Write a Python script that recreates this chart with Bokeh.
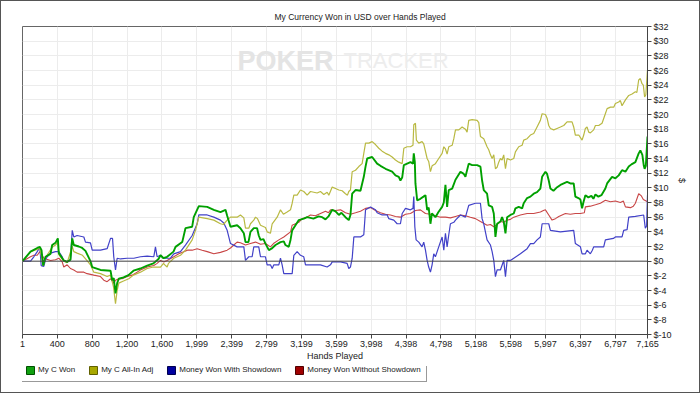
from bokeh.plotting import figure
from bokeh.layouts import column
from bokeh.models import Range1d, FixedTicker, Span, Label, Legend, LegendItem
from bokeh.embed import file_html
from bokeh.resources import INLINE

title_text = "My Currency Won in USD over Hands Played"
x_title = "Hands Played"
y_title = "$"
series_names = ["My C Won", "My C All-In Adj", "Money Won With Showdown", "Money Won Without Showdown"]

x_ticks = [1, 400, 800, 1200, 1600, 1999, 2399, 2799, 3199, 3599, 3998, 4398, 4798, 5198, 5598, 5997, 6397, 6797, 7165]
x_tick_labels = ["1", "400", "800", "1,200", "1,600", "1,999", "2,399", "2,799", "3,199", "3,599", "3,998",
                 "4,398", "4,798", "5,198", "5,598", "5,997", "6,397", "6,797", "7,165"]
y_ticks = [-10, -8, -6, -4, -2, 0, 2, 4, 6, 8, 10, 12, 14, 16, 18, 20, 22, 24, 26, 28, 30, 32]
y_tick_labels = ["$-10", "$-8", "$-6", "$-4", "$-2", "$0", "$2", "$4", "$6", "$8", "$10", "$12", "$14",
                 "$16", "$18", "$20", "$22", "$24", "$26", "$28", "$30", "$32"]

# (hand, USD)
won_points = [
    (1, 0), (93, 1.3), (170, 1.8), (200, 1.95), (219, 1.5), (238, -0.6), (265, 0.6), (322, 1.0), (341, 2.2),
    (379, 2.5), (406, 3.1), (417, 1.1), (474, 0.1), (513, -0.1), (551, 0.2), (571, 3.1), (589, 2.2), (646, 2.0),
    (685, 1.8), (723, 1.4), (780, 0.0), (800, -0.8), (895, -1.2), (1010, -1.3), (1029, -2.6), (1047, -2.3),
    (1067, -4.4), (1086, -3.0), (1105, -2.4), (1159, -2.2), (1216, -1.9), (1273, -1.3), (1353, -1.0),
    (1430, -0.6), (1502, -0.3), (1560, 0.3), (1583, 0.8), (1617, 0.4), (1659, 0.6), (1732, 1.3), (1755, 1.95),
    (1832, 2.6), (1869, 4.5), (1946, 4.7), (1964, 6.0), (2022, 7.5), (2118, 7.4), (2194, 7.0), (2270, 6.7),
    (2328, 7.0), (2347, 6.2), (2385, 4.7), (2461, 4.9), (2499, 4.5), (2538, 3.8), (2557, 2.6), (2591, 2.6),
    (2614, 4.0), (2652, 4.5), (2690, 4.5), (2709, 3.5), (2729, 2.9), (2763, 3.0), (2786, 2.4), (2825, 1.5),
    (2855, 1.7), (2901, 2.2), (2958, 2.6), (2996, 2.7), (3015, 2.2), (3053, 1.95), (3073, 2.9), (3092, 4.2),
    (3130, 4.9), (3168, 5.6), (3225, 5.8), (3264, 6.0), (3336, 5.8), (3394, 6.1), (3436, 6.0), (3474, 5.7),
    (3508, 6.1), (3551, 7.0), (3589, 6.8), (3627, 6.3), (3657, 6.6), (3703, 6.0), (3741, 5.6), (3760, 6.3),
    (3780, 9.2), (3818, 9.7), (3875, 9.6), (3913, 11.5), (3933, 12.9), (3952, 14.0), (4009, 14.2), (4066, 13.3),
    (4104, 13.0), (4162, 12.6), (4238, 12.2), (4276, 11.7), (4314, 11.5), (4333, 11.0), (4353, 11.4),
    (4372, 13.1), (4410, 13.3), (4448, 13.5), (4477, 13.3), (4486, 14.7), (4498, 13.5), (4505, 10.6),
    (4525, 8.3), (4562, 8.5), (4597, 8.8), (4620, 9.0), (4639, 7.0), (4657, 7.3), (4677, 5.1), (4694, 6.5),
    (4734, 6.0), (4769, 6.7), (4811, 7.4), (4830, 8.0), (4849, 10.4), (4868, 7.4), (4887, 9.7), (4926, 9.9),
    (4964, 11.1), (5021, 12.2), (5059, 11.9), (5078, 11.5), (5116, 13.3), (5155, 13.1), (5212, 13.1),
    (5250, 12.9), (5269, 11.0), (5288, 9.7), (5326, 9.2), (5345, 7.6), (5384, 7.4), (5403, 6.5), (5422, 3.3),
    (5441, 5.1), (5479, 5.4), (5498, 6.0), (5517, 5.4), (5537, 3.8), (5556, 6.0), (5594, 6.3), (5632, 6.5),
    (5651, 7.2), (5689, 7.4), (5728, 7.2), (5746, 7.9), (5785, 8.6), (5823, 8.8), (5861, 9.2), (5899, 9.4),
    (5937, 9.9), (5957, 11.5), (5995, 12.2), (6014, 11.9), (6033, 11.0), (6052, 9.9), (6087, 9.6),
    (6121, 10.0), (6167, 10.4), (6205, 10.6), (6243, 10.8), (6281, 10.6), (6319, 10.6), (6338, 8.8),
    (6373, 8.6), (6396, 8.4), (6415, 7.2), (6430, 8.0), (6453, 9.0), (6487, 8.7), (6522, 8.9), (6545, 8.5),
    (6568, 9.1), (6602, 8.8), (6637, 9.0), (6682, 9.9), (6702, 10.6), (6759, 11.5), (6797, 11.3),
    (6835, 11.7), (6873, 12.4), (6912, 12.2), (6950, 12.9), (6981, 13.2), (7026, 13.5), (7064, 14.7),
    (7083, 15.1), (7106, 14.5), (7123, 13.0), (7132, 12.6), (7146, 13.0), (7165, 17.0),
]

allin_points = [
    (1, 0), (93, 1.3), (170, 1.6), (200, 1.8), (238, -0.6), (265, 0.5), (341, 1.9), (379, 2.2), (406, 2.6),
    (417, 0.9), (474, 0.0), (513, -0.2), (571, 2.0), (589, 1.3), (627, 1.1), (689, 0.8), (746, 0.0),
    (780, -0.5), (818, -1.5), (895, -1.7), (971, -2.1), (1010, -1.9), (1044, -3.5), (1067, -5.8),
    (1086, -4.0), (1105, -3.0), (1159, -2.7), (1219, -2.4), (1273, -1.9), (1353, -1.5), (1430, -1.0),
    (1502, -0.8), (1583, -0.8), (1617, -0.3), (1640, -0.6), (1659, -0.8), (1674, -0.3), (1735, 0.4),
    (1812, 0.8), (1869, 1.5), (1946, 2.9), (1984, 4.2), (2022, 6.0), (2118, 5.8), (2194, 5.6), (2270, 5.1),
    (2304, 5.0), (2347, 5.6), (2385, 6.0), (2461, 6.0), (2499, 6.3), (2538, 5.9), (2557, 4.5), (2595, 4.5),
    (2614, 5.1), (2652, 5.6), (2672, 6.0), (2695, 5.8), (2729, 4.9), (2786, 4.6), (2805, 4.0), (2843, 3.8),
    (2863, 5.1), (2920, 6.0), (2958, 7.0), (2992, 6.4), (3034, 6.7), (3073, 7.0), (3092, 7.9), (3111, 9.0),
    (3149, 9.0), (3187, 9.7), (3225, 9.5), (3264, 9.0), (3302, 9.5), (3378, 9.3), (3416, 9.5), (3455, 9.1),
    (3493, 9.4), (3512, 9.0), (3551, 10.1), (3589, 9.9), (3627, 9.7), (3665, 9.6), (3703, 9.2), (3726, 9.0),
    (3741, 9.5), (3760, 9.7), (3780, 12.2), (3818, 12.4), (3856, 12.9), (3894, 13.3), (3913, 14.7),
    (3933, 16.1), (3971, 16.1), (4009, 16.3), (4047, 15.9), (4085, 15.4), (4123, 15.0), (4162, 14.7),
    (4200, 14.5), (4238, 14.2), (4276, 13.8), (4314, 13.5), (4353, 13.3), (4372, 15.4), (4410, 15.6),
    (4448, 15.6), (4477, 15.8), (4486, 18.6), (4505, 18.8), (4516, 16.5), (4543, 16.1), (4581, 16.3),
    (4600, 16.0), (4639, 14.0), (4657, 13.6), (4677, 12.2), (4696, 13.0), (4734, 13.3), (4772, 14.0),
    (4811, 14.7), (4830, 15.6), (4849, 15.3), (4868, 14.6), (4887, 15.6), (4926, 15.8), (4945, 16.7),
    (4964, 17.9), (5002, 17.9), (5040, 18.3), (5078, 18.0), (5097, 17.6), (5116, 19.2), (5155, 19.3),
    (5212, 19.2), (5231, 18.9), (5250, 17.0), (5288, 16.7), (5326, 15.6), (5345, 15.2), (5365, 14.5),
    (5384, 14.0), (5403, 14.5), (5422, 12.6), (5441, 12.8), (5460, 13.5), (5479, 14.0), (5498, 13.8),
    (5517, 14.5), (5537, 12.6), (5556, 14.0), (5594, 13.8), (5632, 14.0), (5651, 14.9), (5689, 15.6),
    (5728, 15.8), (5746, 16.5), (5785, 16.7), (5823, 17.2), (5861, 17.4), (5899, 18.3), (5937, 19.2),
    (5957, 20.1), (5995, 20.0), (6014, 19.5), (6033, 18.5), (6052, 18.1), (6090, 17.9), (6128, 18.1),
    (6167, 18.3), (6205, 18.5), (6243, 19.0), (6300, 19.0), (6319, 18.3), (6338, 17.2), (6377, 17.2),
    (6415, 16.5), (6434, 17.2), (6453, 18.1), (6472, 18.3), (6491, 17.6), (6510, 17.5), (6548, 17.9),
    (6568, 18.5), (6606, 18.5), (6644, 18.8), (6682, 20.1), (6702, 20.8), (6740, 21.0), (6778, 21.0),
    (6797, 21.5), (6835, 21.7), (6854, 21.9), (6873, 21.2), (6912, 22.0), (6950, 22.6), (6988, 22.8),
    (7026, 23.1), (7043, 23.0), (7064, 24.7), (7083, 24.9), (7102, 24.2), (7117, 24.0), (7132, 22.4),
    (7146, 22.7), (7165, 26.1),
]

showdown_points = [
    (1, 0), (93, 0), (131, 0.6), (170, 1.3), (200, 1.9), (215, -0.6), (245, -0.7), (265, 0.2), (284, 0.6),
    (322, 1.1), (379, 1.3), (417, 1.3), (456, 0.6), (474, 0.0), (513, -0.1), (551, 0.2), (571, 4.2),
    (589, 3.3), (627, 3.5), (704, 3.3), (723, 2.6), (780, 2.5), (800, 1.5), (895, 1.5), (971, 1.7),
    (1010, 3.1), (1033, 3.1), (1047, 0.6), (1067, -1.2), (1086, 0.4), (1124, 0.3), (1200, 0.4), (1277, 0.4),
    (1353, 0.6), (1430, 0.7), (1506, 0.6), (1525, 1.95), (1544, 0.6), (1583, 0.8), (1621, 0.4), (1697, 0.4),
    (1735, 1.0), (1812, 1.3), (1869, 2.2), (1946, 3.5), (2003, 5.1), (2022, 6.3), (2118, 6.3), (2194, 6.0),
    (2270, 5.6), (2308, 5.2), (2347, 4.2), (2385, 2.4), (2461, 1.95), (2538, 1.95), (2557, 0.1), (2595, 0.6),
    (2633, 0.6), (2652, 1.95), (2709, 1.95), (2729, 0.6), (2786, 0.6), (2805, -0.5), (2843, -0.5),
    (2863, -1.0), (2882, -0.5), (2939, -0.5), (2958, 0.4), (2977, -0.5), (2996, -1.7), (3092, -1.7),
    (3111, 0.8), (3149, 1.3), (3187, 0.8), (3225, 0.6), (3245, -0.5), (3340, -0.5), (3416, -0.5),
    (3493, -0.8), (3531, -0.5), (3551, -0.1), (3646, -0.1), (3722, -0.3), (3741, -1.0), (3760, -0.8),
    (3780, 0.4), (3799, 3.3), (3875, 3.3), (3913, 3.6), (3933, 7.0), (3990, 7.4), (4047, 7.0), (4066, 6.6),
    (4123, 6.3), (4181, 6.3), (4200, 5.8), (4257, 5.6), (4295, 5.1), (4333, 5.1), (4353, 6.5), (4391, 7.2),
    (4448, 7.0), (4477, 7.2), (4486, 8.8), (4498, 4.7), (4513, 2.9), (4543, 2.6), (4581, 1.95), (4600, 2.6),
    (4620, 1.5), (4639, 0.1), (4657, -0.8), (4677, -1.5), (4696, -0.5), (4715, 1.0), (4734, 0.6),
    (4772, 1.95), (4811, 3.3), (4830, 1.5), (4849, 3.8), (4868, 1.95), (4887, 3.6), (4906, 5.1), (4945, 5.3),
    (4964, 5.6), (5021, 6.3), (5078, 6.0), (5116, 7.6), (5193, 7.9), (5250, 7.9), (5269, 5.8), (5288, 5.1),
    (5326, 2.9), (5365, 2.2), (5384, 1.3), (5403, 0.1), (5422, -2.1), (5441, -1.2), (5479, -1.2), (5517, 0.1),
    (5537, -2.1), (5556, 0.1), (5594, 0.1), (5632, 0.4), (5708, 1.0), (5785, 1.7), (5823, 2.4), (5861, 2.4),
    (5899, 2.9), (5937, 3.3), (5957, 5.1), (6033, 5.1), (6052, 4.2), (6167, 4.0), (6319, 4.2), (6338, 2.4),
    (6396, 1.95), (6415, 1.0), (6453, 1.0), (6472, 1.5), (6510, 1.0), (6533, 1.5), (6548, 1.95), (6663, 1.95),
    (6682, 2.9), (6774, 3.1), (6797, 3.3), (6873, 3.3), (6892, 4.2), (6931, 4.3), (6950, 6.0), (7026, 6.1),
    (7121, 6.3), (7140, 4.5), (7155, 4.8), (7165, 9.0),
]

no_showdown_points = [
    (1, 0), (93, 0.6), (131, 0.8), (170, 0.8), (200, 1.3), (227, 0.8), (245, 0.4), (322, 0.1), (379, 0.2),
    (417, 0.4), (456, -0.1), (474, -0.8), (513, -0.5), (551, -1.0), (589, -1.2), (627, -1.5), (704, -1.5),
    (742, -1.7), (818, -1.9), (895, -2.1), (933, -2.6), (971, -2.8), (1010, -2.4), (1047, -3.0), (1067, -2.6),
    (1105, -2.4), (1143, -2.4), (1200, -2.1), (1258, -1.9), (1315, -1.5), (1353, -1.2), (1430, -0.8),
    (1506, -0.6), (1544, -0.3), (1583, 0.1), (1621, -0.1), (1659, 0.1), (1735, 0.6), (1792, 1.0),
    (1850, 1.3), (1892, 1.5), (1946, 1.5), (2003, 1.7), (2060, 1.5), (2118, 1.3), (2194, 1.0), (2270, 1.2),
    (2347, 1.5), (2385, 1.8), (2423, 2.2), (2461, 2.6), (2499, 2.5), (2557, 2.2), (2614, 2.4), (2672, 2.6),
    (2729, 2.3), (2786, 2.4), (2843, 1.95), (2878, 2.4), (2939, 2.9), (2996, 3.3), (3073, 4.0), (3092, 4.9),
    (3130, 5.1), (3168, 5.3), (3206, 5.8), (3245, 5.9), (3302, 6.3), (3359, 6.2), (3416, 6.5), (3474, 6.8),
    (3508, 6.6), (3531, 7.0), (3589, 6.9), (3646, 7.0), (3703, 6.6), (3760, 6.4), (3818, 6.6), (3875, 6.8),
    (3933, 7.2), (3990, 7.3), (4047, 6.9), (4104, 6.6), (4162, 6.4), (4219, 6.3), (4276, 6.1), (4333, 6.0),
    (4391, 6.4), (4448, 6.5), (4505, 6.9), (4562, 7.0), (4620, 6.5), (4677, 6.4), (4734, 6.2), (4792, 6.0),
    (4849, 6.0), (4906, 5.9), (4964, 6.1), (5021, 6.3), (5078, 6.2), (5135, 6.0), (5193, 5.8), (5250, 5.4),
    (5296, 5.1), (5326, 4.9), (5365, 5.0), (5403, 4.7), (5441, 5.0), (5479, 5.4), (5517, 5.3), (5556, 5.6),
    (5594, 5.7), (5632, 6.0), (5708, 6.3), (5785, 6.5), (5861, 6.5), (5937, 6.7), (5972, 6.9), (5995, 7.0),
    (6033, 6.3), (6071, 5.6), (6110, 5.8), (6148, 6.1), (6186, 6.3), (6224, 6.5), (6281, 6.4), (6338, 6.5),
    (6396, 6.5), (6441, 6.6), (6453, 7.4), (6510, 7.5), (6568, 7.7), (6625, 7.9), (6682, 8.3), (6740, 8.1),
    (6797, 8.2), (6854, 8.0), (6888, 8.2), (6912, 7.4), (6969, 7.3), (7003, 7.5), (7026, 7.9), (7064, 9.2),
    (7095, 8.9), (7117, 8.4), (7165, 8.1),
]

line_colors = ["#00a000", "#b9b942", "#4141c8", "#c84646"]
legend_colors = ["#10a010", "#a8a800", "#0000a0", "#a00000"]
legend_edges = ["#005000", "#606000", "#000050", "#500000"]

FONT = "Liberation Sans"
TXT = "#222222"

# ---------------- main chart ----------------
p = figure(width=698, height=365, output_backend="svg", toolbar_location=None,
           x_range=Range1d(1, 7165), y_range=Range1d(-10, 32), y_axis_location="right",
           min_border_left=21, min_border_top=25, min_border_right=52, min_border_bottom=32,
           background_fill_color="white", border_fill_color="white")
p.outline_line_color = "#666666"
p.outline_line_width = 1

p.title.text = title_text
p.title.align = "left"
p.title.offset = 252
p.title.text_font = FONT
p.title.text_font_size = "8.5px"
p.title.text_font_style = "normal"
p.title.text_color = TXT
p.title.standoff = 10

for ax in (p.xaxis[0], p.yaxis[0]):
    ax.axis_line_color = "#444444"
    ax.major_tick_line_color = "#444444"
    ax.major_tick_in = 0
    ax.major_tick_out = 4
    ax.minor_tick_line_color = None
    ax.major_label_text_font = FONT
    ax.major_label_text_font_size = "9px"
    ax.major_label_text_color = TXT
    ax.axis_label_text_font = FONT
    ax.axis_label_text_font_size = "9px"
    ax.axis_label_text_font_style = "normal"
    ax.axis_label_text_color = TXT
    ax.major_label_standoff = 2

p.xaxis.ticker = FixedTicker(ticks=x_ticks)
p.xaxis.major_label_overrides = {t: s for t, s in zip(x_ticks, x_tick_labels)}
p.xaxis.axis_label = x_title
p.xaxis.axis_label_standoff = 1
p.yaxis.ticker = FixedTicker(ticks=y_ticks)
p.yaxis.major_label_overrides = {t: s for t, s in zip(y_ticks, y_tick_labels)}
p.yaxis.axis_label = y_title
p.yaxis.axis_label_standoff = 2

p.xgrid.ticker = FixedTicker(ticks=x_ticks)
p.ygrid.ticker = FixedTicker(ticks=y_ticks)
p.grid.grid_line_color = "#ececec"
p.grid.grid_line_width = 1

# watermark
p.add_layout(Label(x=215, y=274, x_units="screen", y_units="screen", text="POKER",
                   text_font=FONT, text_font_style="bold", text_font_size="27px",
                   text_color="#e4e4e4", text_baseline="middle", text_align="left"))
p.add_layout(Label(x=321, y=274, x_units="screen", y_units="screen", text="TRACKER",
                   text_font=FONT, text_font_size="22px",
                   text_color="#ededed", text_baseline="middle", text_align="left"))

p.add_layout(Span(location=0, dimension="width", line_color="#444444", line_width=1))

all_points = [won_points, allin_points, showdown_points, no_showdown_points]
widths = [1.9, 1.2, 1.2, 1.1]
order = [3, 2, 1, 0]
for i in order:
    pts = all_points[i]
    p.line([h for h, v in pts], [v for h, v in pts], line_color=line_colors[i], line_width=widths[i])

# ---------------- legend strip ----------------
lp = figure(width=698, height=26, output_backend="svg", toolbar_location=None,
            x_range=Range1d(0, 1), y_range=Range1d(0, 1),
            x_axis_location=None, y_axis_location=None, min_border=0,
            background_fill_color="white", border_fill_color="white")
lp.outline_line_color = None
lp.grid.visible = False

items = []
for i, name in enumerate(series_names):
    h_last, v_last = all_points[i][-1]
    # legend swatch proxy (its single row lies outside this strip's ranges)
    r = lp.quad(left=[h_last], right=[h_last], top=[v_last], bottom=[v_last],
                fill_color=legend_colors[i], line_color=legend_edges[i], line_width=1)
    items.append(LegendItem(label=name, renderers=[r]))

legend = Legend(items=items, orientation="horizontal", location=(-3, 10),
                label_text_font=FONT, label_text_font_size="8px", label_text_color=TXT,
                glyph_width=10, glyph_height=10, label_height=13, label_width=10,
                label_standoff=3, spacing=13, padding=5, margin=0,
                border_line_color="#333333", border_line_width=1,
                background_fill_color="white", background_fill_alpha=1.0)
lp.add_layout(legend, "center")

layout = column(p, lp, spacing=0)
layout.styles = {"border": "1px solid #555555"}

open("out.html", "w").write(file_html(layout, INLINE))
